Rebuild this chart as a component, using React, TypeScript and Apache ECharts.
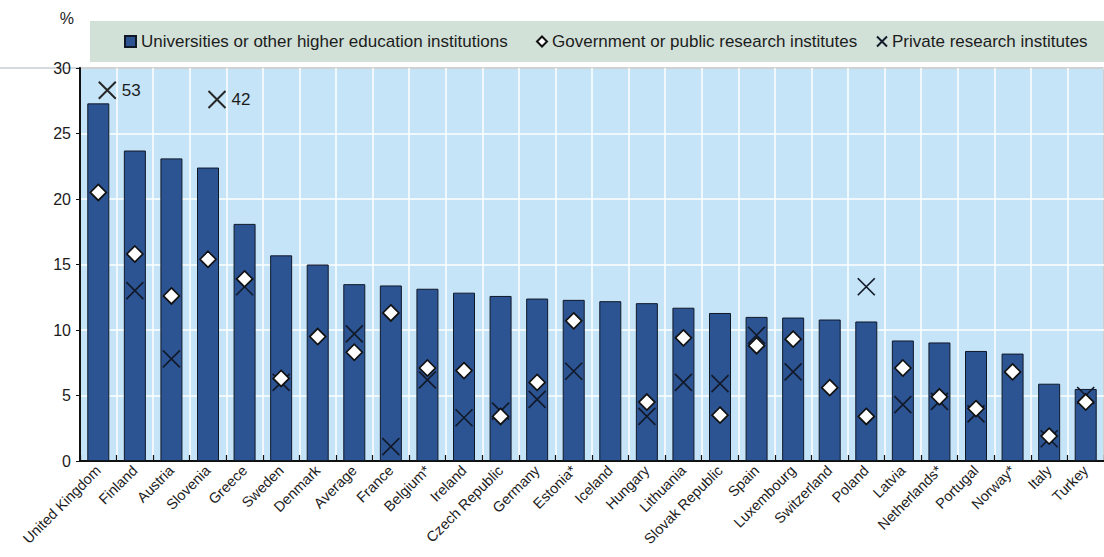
import React, { useEffect, useRef } from "react";
import * as echarts from "echarts";

// ---------- data ----------
const categories = [
  "United Kingdom", "Finland", "Austria", "Slovenia", "Greece", "Sweden", "Denmark",
  "Average", "France", "Belgium*", "Ireland", "Czech Republic", "Germany", "Estonia*",
  "Iceland", "Hungary", "Lithuania", "Slovak Republic", "Spain", "Luxembourg",
  "Switzerland", "Poland", "Latvia", "Netherlands*", "Portugal", "Norway*", "Italy", "Turkey",
];

const universities = [
  27.3, 23.7, 23.1, 22.4, 18.1, 15.7, 15.0, 13.5, 13.4, 13.15, 12.85, 12.6, 12.4, 12.3,
  12.2, 12.05, 11.7, 11.3, 11.0, 10.95, 10.8, 10.65, 9.2, 9.05, 8.4, 8.2, 5.9, 5.5,
];

const government = [
  20.5, 15.8, 12.6, 15.4, 13.9, 6.3, 9.5, 8.3, 11.3, 7.1, 6.9, 3.4, 6.0, 10.7,
  null, 4.5, 9.4, 3.5, 8.8, 9.3, 5.6, 3.4, 7.1, 4.9, 4.0, 6.8, 1.9, 4.5,
];

const privateInst = [
  53, 13.0, 7.8, 42, 13.3, 6.0, null, 9.7, 1.1, 6.2, 3.3, 3.8, 4.7, 6.85,
  null, 3.4, 6.0, 5.9, 9.6, 6.8, null, 13.3, 4.3, 4.55, 3.6, null, 1.7, 5.0,
];

const yMin = 0;
const yMax = 30;
const yInterval = 5;

const seriesNames = [
  "Universities or other higher education institutions",
  "Government or public research institutes",
  "Private research institutes",
];

// where off-scale markers (values above the axis max) are drawn
const offScaleMarkerY: Record<string, number> = {
  "United Kingdom": 28.3,
  Slovenia: 27.6,
};

// ---------- style ----------
const FONT = '"Liberation Sans", Arial, Helvetica, sans-serif';
const TEXT = "#1c1c1c";
const BAR = "#2c5493";
const PLOT_BG = "#c6e4f7";
const CROSS = "path://M0,0L20,20M20,0L0,20";

export default function App() {
  const ref = useRef<HTMLDivElement>(null);

  useEffect(() => {
    if (!ref.current) return;
    const chart = echarts.init(ref.current, undefined, { renderer: "svg" });

    const crossData = privateInst.map((v) => (v == null || v > yMax ? "-" : v));
    const offScaleData = categories.map((c, i) => {
      const v = privateInst[i];
      return v != null && v > yMax ? offScaleMarkerY[c] ?? yMax - 1.5 : "-";
    });
    const diamondData = government.map((v) => (v == null ? "-" : v));

    const legendBase = {
      orient: "horizontal",
      padding: 0,
      top: 33,
      itemGap: 0,
      textStyle: { fontFamily: FONT, fontSize: 17, color: TEXT },
      selectedMode: false,
    };

    chart.setOption({
      animation: false,
      backgroundColor: "#ffffff",
      textStyle: { fontFamily: FONT },
      graphic: [
        {
          type: "rect",
          z: -10,
          silent: true,
          shape: { x: 90, y: 21, width: 1014, height: 41 },
          style: { fill: "#d2e1d8" },
        },
        {
          type: "line",
          z: -10,
          silent: true,
          shape: { x1: 0, y1: 68, x2: 80, y2: 68 },
          style: { stroke: "#a9b4ba", lineWidth: 1 },
        },
      ],
      legend: [
        {
          ...legendBase,
          left: 124,
          data: [{ name: seriesNames[0], icon: "rect" }],
          itemWidth: 11,
          itemHeight: 11,
        },
        {
          ...legendBase,
          left: 536,
          data: [seriesNames[1]],
          itemWidth: 10,
          itemHeight: 10,
        },
        {
          ...legendBase,
          left: 876,
          data: [seriesNames[2]],
          itemWidth: 10,
          itemHeight: 10,
        },
      ],
      grid: {
        left: 80,
        top: 68,
        width: 1027,
        height: 393,
        show: true,
        backgroundColor: PLOT_BG,
        borderColor: "#111111",
        borderWidth: 1.5,
        containLabel: false,
      },
      xAxis: {
        type: "category",
        data: categories,
        boundaryGap: true,
        axisLine: { show: true, lineStyle: { color: "#111111", width: 2 } },
        axisTick: {
          show: true,
          inside: true,
          length: 6,
          lineStyle: { color: "#111111", width: 1.2 },
        },
        splitLine: { show: true, lineStyle: { color: "#ffffff", width: 1.5 } },
        axisLabel: {
          interval: 0,
          rotate: 45,
          margin: 7,
          fontFamily: FONT,
          fontSize: 14.5,
          color: TEXT,
        },
      },
      yAxis: {
        type: "value",
        min: yMin,
        max: yMax,
        interval: yInterval,
        name: "%",
        nameLocation: "end",
        nameGap: 42,
        nameTextStyle: {
          fontFamily: FONT,
          fontSize: 16,
          color: TEXT,
          align: "right",
          padding: [0, 6, 0, 0],
        },
        axisLine: { show: true, lineStyle: { color: "#111111", width: 2 } },
        axisTick: { show: true, length: 4, lineStyle: { color: "#111111" } },
        splitLine: { show: true, lineStyle: { color: "#ffffff", width: 1.5 } },
        axisLabel: { fontFamily: FONT, fontSize: 16, color: TEXT, margin: 9 },
      },
      series: [
        {
          name: seriesNames[0],
          type: "bar",
          data: universities,
          barWidth: 22,
          itemStyle: { color: BAR, borderColor: "#101828", borderWidth: 1 },
          z: 2,
        },
        {
          name: seriesNames[2],
          type: "scatter",
          data: crossData,
          symbol: CROSS,
          symbolSize: 17,
          itemStyle: {
            color: "rgba(0,0,0,0)",
            borderColor: "#121a2a",
            borderWidth: 1.7,
            opacity: 1,
          },
          z: 3,
        },
        {
          name: seriesNames[2],
          type: "scatter",
          data: offScaleData,
          symbol: CROSS,
          symbolSize: 17,
          symbolOffset: [9, 0],
          itemStyle: {
            color: "rgba(0,0,0,0)",
            borderColor: "#262626",
            borderWidth: 2,
            opacity: 1,
          },
          label: {
            show: true,
            position: "right",
            distance: 5,
            fontFamily: FONT,
            fontSize: 17,
            color: TEXT,
            formatter: (p: any) => String(privateInst[p.dataIndex]),
          },
          z: 3,
        },
        {
          name: seriesNames[1],
          type: "scatter",
          data: diamondData,
          symbol: "diamond",
          symbolSize: 16,
          itemStyle: {
            color: "#ffffff",
            borderColor: "#111111",
            borderWidth: 1.7,
            opacity: 1,
          },
          z: 4,
        },
      ],
    });

    return () => chart.dispose();
  }, []);

  return (
    <div
      ref={ref}
      style={{ position: "absolute", left: 0, top: 0, width: 1104, height: 557 }}
    />
  );
}
